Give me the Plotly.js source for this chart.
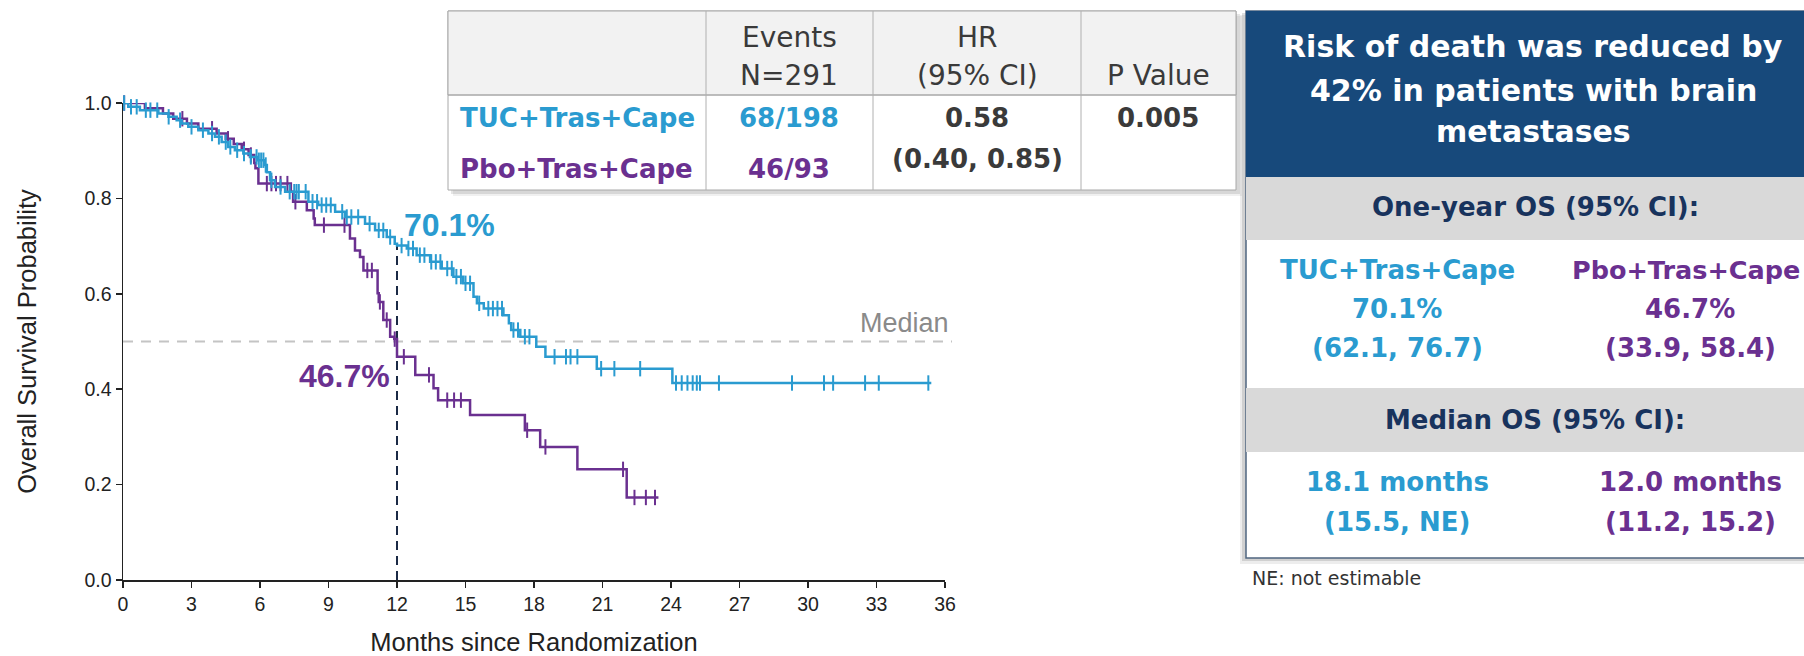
<!DOCTYPE html>
<html>
<head>
<meta charset="utf-8">
<script src="https://cdn.plot.ly/plotly-3.0.1.min.js"></script>
<style>
  html, body { margin: 0; padding: 0; background: #ffffff; }
  #chart { width: 1804px; height: 656px; }
</style>
</head>
<body>
<div id="chart"></div>
<script>
// ---------------- DATA ----------------
// TUC+Tras+Cape arm: event times (months) and survival after each step
const tucTimes = [0.23, 0.74, 1.55, 1.99, 2.35, 2.57, 2.86, 3.3, 3.74, 4.03, 4.32, 4.61, 4.9, 5.27, 5.56, 5.9, 6.2, 6.3, 6.44, 6.66, 7.1, 8.12, 8.55, 9.29, 9.72, 10.6, 11.04, 11.55, 11.9, 12.0, 12.43, 12.86, 13.45, 13.96, 14.47, 14.9, 15.35, 15.5, 15.8, 16.66, 16.9, 17.0, 17.4, 18.1, 18.5, 20.75, 24.06];
const tucSurv  = [0.992, 0.985, 0.978, 0.971, 0.964, 0.957, 0.950, 0.943, 0.936, 0.929, 0.918, 0.908, 0.901, 0.894, 0.887, 0.880, 0.870, 0.855, 0.838, 0.824, 0.814, 0.793, 0.786, 0.772, 0.761, 0.747, 0.733, 0.719, 0.705, 0.701, 0.695, 0.681, 0.667, 0.653, 0.636, 0.622, 0.594, 0.580, 0.569, 0.555, 0.538, 0.524, 0.510, 0.489, 0.468, 0.443, 0.413];
const tucEnd = 35.4;
const tucCensor = [0.05, 0.35, 0.6, 1.0, 1.2, 1.5, 2.0, 2.5, 3.0, 3.5, 3.9, 4.2, 4.5, 4.7, 5.0, 5.3, 5.6, 5.85, 5.95, 6.05, 6.15, 6.25, 6.5, 6.9, 7.3, 7.5, 7.6, 7.7, 8.0, 8.3, 8.5, 8.7, 8.9, 9.1, 9.6, 9.8, 10.0, 10.3, 10.8, 11.2, 11.4, 11.7, 12.2, 12.5, 12.7, 13.0, 13.2, 13.5, 13.7, 13.9, 14.2, 14.4, 14.6, 14.8, 15.0, 15.2, 15.6, 16.0, 16.2, 16.4, 16.6, 17.1, 17.3, 17.6, 17.8, 18.9, 19.4, 19.6, 19.9, 20.94, 21.52, 22.65, 24.22, 24.47, 24.72, 24.95, 25.13, 25.27, 26.1, 29.3, 30.7, 31.1, 32.5, 33.1, 35.27];

// Pbo+Tras+Cape arm
const pboTimes = [0.96, 1.75, 2.2, 2.8, 3.3, 4.1, 4.5, 4.85, 5.2, 5.5, 5.75, 5.8, 5.93, 7.35, 7.45, 8.05, 8.35, 8.4, 9.94, 10.16, 10.38, 10.53, 11.15, 11.2, 11.4, 11.7, 11.88, 12.0, 12.8, 13.6, 13.8, 15.2, 17.6, 18.27, 19.9, 22.06];
const pboSurv  = [0.989, 0.978, 0.967, 0.957, 0.946, 0.936, 0.925, 0.914, 0.903, 0.891, 0.874, 0.863, 0.831, 0.814, 0.793, 0.775, 0.758, 0.744, 0.716, 0.691, 0.677, 0.649, 0.601, 0.583, 0.545, 0.510, 0.505, 0.468, 0.430, 0.402, 0.377, 0.346, 0.314, 0.279, 0.232, 0.173];
const pboEnd = 23.45;
const pboCensor = [0.05, 2.6, 3.9, 4.6, 5.3, 5.6, 6.3, 6.5, 6.7, 6.9, 7.2, 7.55, 8.8, 9.7, 10.7, 10.9, 11.25, 11.55, 11.9, 12.3, 13.4, 14.2, 14.5, 14.8, 17.7, 18.5, 21.9, 22.4, 22.9, 23.3];

// Reference levels / labels
const medianLevel = 0.5;
const medianLabel = 'Median';
const landmarkMonth = 12;
const tucAt12 = 0.701;
const pboAt12 = 0.467;
const tucAt12Label = '70.1%';
const pboAt12Label = '46.7%';

const xTicks = [0, 3, 6, 9, 12, 15, 18, 21, 24, 27, 30, 33, 36];
const yTicks = [0.0, 0.2, 0.4, 0.6, 0.8, 1.0];

// Summary table
const armNames = ['TUC+Tras+Cape', 'Pbo+Tras+Cape'];
const eventsCol = ['68/198', '46/93'];
const headerEvents = ['Events', 'N=291'];
const headerHR = ['HR', '(95% CI)'];
const headerP = 'P Value';
const hrValue = '0.58';
const hrCI = '(0.40, 0.85)';
const pValue = '0.005';

// Right panel
const panelTitle = ['Risk of death was reduced by', '42% in patients with brain', 'metastases'];
const oneYearHeader = 'One-year OS (95% CI):';
const oneYearOS = ['70.1%', '46.7%'];
const oneYearCI = ['(62.1, 76.7)', '(33.9, 58.4)'];
const medianHeader = 'Median OS (95% CI):';
const medianOS = ['18.1 months', '12.0 months'];
const medianCI = ['(15.5, NE)', '(11.2, 15.2)'];
const footnote = 'NE: not estimable';

// ---------------- STYLE ----------------
const TEAL = '#2a9bd0';
const PURPLE = '#6a3090';
const NAVY_BG = '#17497b';
const NAVY_TXT = '#18335d';
const GRAY_BAND = '#d9d9d9';
const AX_FONT = 'Liberation Sans, Arial, sans-serif';
const TX_FONT = 'DejaVu Sans, Verdana, sans-serif';

// plot area in pixels
const L = 123, R = 945, T = 103, B = 580;
const W = 1804, H = 656;
const px = x => (x - L) / (R - L);
const py = y => (B - y) / (B - T);

function stepAt(times, surv, t) {
  let s = 1.0;
  for (let i = 0; i < times.length; i++) { if (times[i] <= t) s = surv[i]; }
  return s;
}
function curve(times, surv, end) {
  return { x: [0].concat(times, [end]), y: [1.0].concat(surv, [surv[surv.length - 1]]) };
}

const tucC = curve(tucTimes, tucSurv, tucEnd);
const pboC = curve(pboTimes, pboSurv, pboEnd);

const traces = [
  { x: pboC.x, y: pboC.y, type: 'scatter', mode: 'lines', line: { shape: 'hv', color: PURPLE, width: 2.5 }, hoverinfo: 'skip', showlegend: false },
  { x: pboCensor, y: pboCensor.map(t => stepAt(pboTimes, pboSurv, t)), type: 'scatter', mode: 'markers',
    marker: { symbol: 'line-ns', size: 11, line: { width: 2, color: PURPLE } }, hoverinfo: 'skip', showlegend: false, cliponaxis: false },
  { x: tucC.x, y: tucC.y, type: 'scatter', mode: 'lines', line: { shape: 'hv', color: TEAL, width: 2.5 }, hoverinfo: 'skip', showlegend: false },
  { x: tucCensor, y: tucCensor.map(t => stepAt(tucTimes, tucSurv, t)), type: 'scatter', mode: 'markers',
    marker: { symbol: 'line-ns', size: 11, line: { width: 2, color: TEAL } }, hoverinfo: 'skip', showlegend: false, cliponaxis: false }
];

// ---------------- SHAPES ----------------
function rectPx(x0, y0, x1, y1, fill, line, lw) {
  return { type: 'rect', xref: 'paper', yref: 'paper', x0: px(x0), x1: px(x1), y0: py(y1), y1: py(y0),
    fillcolor: fill, line: { color: line || 'rgba(0,0,0,0)', width: lw || 0 }, layer: 'above' };
}
function linePx(x0, y0, x1, y1, color, lw) {
  return { type: 'line', xref: 'paper', yref: 'paper', x0: px(x0), x1: px(x1), y0: py(y0), y1: py(y1),
    line: { color: color, width: lw }, layer: 'above' };
}

const shapes = [
  // median reference line (slightly past the last tick, as in the source)
  { type: 'line', xref: 'paper', yref: 'y', x0: 0, x1: px(952), y0: medianLevel, y1: medianLevel,
    line: { color: '#c4c4c4', width: 2, dash: '10px,8px' }, layer: 'below' },
  // landmark line at 12 months
  { type: 'line', xref: 'x', yref: 'y', x0: landmarkMonth, x1: landmarkMonth, y0: 0, y1: tucAt12,
    line: { color: '#1b2a45', width: 2, dash: '9px,6px' }, layer: 'below' },

  // summary table shadow + body
  rectPx(453, 16, 1242, 196, 'rgba(0,0,0,0.06)'),
  rectPx(451, 14, 1240, 194, 'rgba(0,0,0,0.10)'),
  rectPx(448, 11, 1236, 190, '#ffffff', '#a8a8a8', 1),
  rectPx(448, 11, 1236, 95, '#f2f2f2', '#a8a8a8', 1),
  linePx(448, 95, 1236, 95, '#a8a8a8', 1),
  linePx(706, 11, 706, 190, '#b0b0b0', 1),
  linePx(873, 11, 873, 190, '#b0b0b0', 1),
  linePx(1081, 11, 1081, 190, '#b0b0b0', 1),

  // right panel shadow + body
  rectPx(1240, 15, 1812, 564, 'rgba(0,0,0,0.07)'),
  rectPx(1242, 13, 1812, 561, 'rgba(0,0,0,0.12)'),
  rectPx(1246, 11, 1812, 558, '#ffffff', '#4f6680', 1.5),
  rectPx(1246, 11, 1812, 177, NAVY_BG),
  rectPx(1246, 177, 1812, 240, GRAY_BAND),
  rectPx(1246, 388, 1812, 452, GRAY_BAND)
];

// ---------------- ANNOTATIONS ----------------
function textPx(text, x, y, color, size, opts) {
  opts = opts || {};
  const t = opts.bold ? '<b>' + text + '</b>' : text;
  return { xref: 'paper', yref: 'paper', x: px(x), y: py(y), text: t, showarrow: false,
    xanchor: opts.anchor || 'center', yanchor: 'middle',
    font: { family: opts.family || TX_FONT, size: size, color: color } };
}

const annotations = [
  // on-chart labels
  { xref: 'x', yref: 'y', x: landmarkMonth + 0.2, y: tucAt12 + 0.043, text: '<b>' + tucAt12Label + '</b>', showarrow: false,
    xanchor: 'left', yanchor: 'middle', font: { family: AX_FONT, size: 32, color: TEAL } },
  { xref: 'x', yref: 'y', x: landmarkMonth - 0.2, y: pboAt12 - 0.04, text: '<b>' + pboAt12Label + '</b>', showarrow: false,
    xanchor: 'right', yanchor: 'middle', font: { family: AX_FONT, size: 32, color: PURPLE } },
  { xref: 'paper', yref: 'y', x: px(951), y: medianLevel + 0.038, text: medianLabel, showarrow: false,
    xanchor: 'right', yanchor: 'middle', font: { family: AX_FONT, size: 27, color: '#8a8a8a' } },

  // table header
  textPx(headerEvents[0], 789, 37, '#3a3a3a', 28),
  textPx(headerEvents[1], 789, 75, '#3a3a3a', 28),
  textPx(headerHR[0], 977, 37, '#3a3a3a', 28),
  textPx(headerHR[1], 977, 75, '#3a3a3a', 28),
  textPx(headerP, 1158, 75, '#3a3a3a', 28),
  // table rows
  textPx(armNames[0], 458, 118, TEAL, 26, { bold: true, anchor: 'left' }),
  textPx(armNames[1], 458, 169, PURPLE, 26, { bold: true, anchor: 'left' }),
  textPx(eventsCol[0], 789, 118, TEAL, 26, { bold: true }),
  textPx(eventsCol[1], 789, 169, PURPLE, 26, { bold: true }),
  textPx(hrValue, 977, 118, '#3a3a3a', 26, { bold: true }),
  textPx(hrCI, 977, 159, '#3a3a3a', 26, { bold: true }),
  textPx(pValue, 1158, 118, '#3a3a3a', 26, { bold: true }),

  // right panel
  textPx(panelTitle[0], 1533, 46, '#ffffff', 30, { bold: true }),
  textPx(panelTitle[1], 1533, 90, '#ffffff', 30, { bold: true }),
  textPx(panelTitle[2], 1533, 131, '#ffffff', 30, { bold: true }),
  textPx(oneYearHeader, 1535, 207, NAVY_TXT, 26, { bold: true }),
  textPx(armNames[0], 1397, 270, TEAL, 26, { bold: true }),
  textPx(armNames[1], 1686, 270, PURPLE, 25.5, { bold: true }),
  textPx(oneYearOS[0], 1397, 309, TEAL, 26, { bold: true }),
  textPx(oneYearOS[1], 1690, 309, PURPLE, 26, { bold: true }),
  textPx(oneYearCI[0], 1397, 348, TEAL, 26, { bold: true }),
  textPx(oneYearCI[1], 1690, 348, PURPLE, 26, { bold: true }),
  textPx(medianHeader, 1535, 420, NAVY_TXT, 26, { bold: true }),
  textPx(medianOS[0], 1397, 482, TEAL, 26, { bold: true }),
  textPx(medianOS[1], 1690, 482, PURPLE, 26, { bold: true }),
  textPx(medianCI[0], 1397, 522, TEAL, 26, { bold: true }),
  textPx(medianCI[1], 1690, 522, PURPLE, 26, { bold: true }),
  textPx(footnote, 1250, 578, '#333333', 19, { anchor: 'left' })
];

const layout = {
  width: W, height: H,
  margin: { l: L, r: W - R, t: T, b: H - B, pad: 0 },
  paper_bgcolor: '#ffffff', plot_bgcolor: '#ffffff',
  showlegend: false,
  xaxis: {
    range: [0, 36], tickvals: xTicks, ticktext: xTicks.map(String),
    showgrid: false, zeroline: false, showline: true, linecolor: '#222222', linewidth: 1.5,
    ticks: 'outside', ticklen: 6, tickwidth: 1.5, tickcolor: '#222222',
    tickfont: { family: AX_FONT, size: 19.5, color: '#222222' },
    title: { text: 'Months since Randomization', font: { family: AX_FONT, size: 25.5, color: '#222222' }, standoff: 24 },
    automargin: false, fixedrange: true
  },
  yaxis: {
    range: [0, 1.0], tickvals: yTicks, ticktext: yTicks.map(v => v.toFixed(1)),
    showgrid: false, zeroline: false, showline: true, linecolor: '#222222', linewidth: 1.5,
    ticks: 'outside', ticklen: 6, tickwidth: 1.5, tickcolor: '#222222',
    tickfont: { family: AX_FONT, size: 19.5, color: '#222222' },
    title: { text: 'Overall Survival Probability', font: { family: AX_FONT, size: 25.5, color: '#222222' }, standoff: 40 },
    automargin: false, fixedrange: true
  },
  shapes: shapes,
  annotations: annotations
};

Plotly.newPlot('chart', traces, layout, { staticPlot: true, displayModeBar: false });
</script>
</body>
</html>
